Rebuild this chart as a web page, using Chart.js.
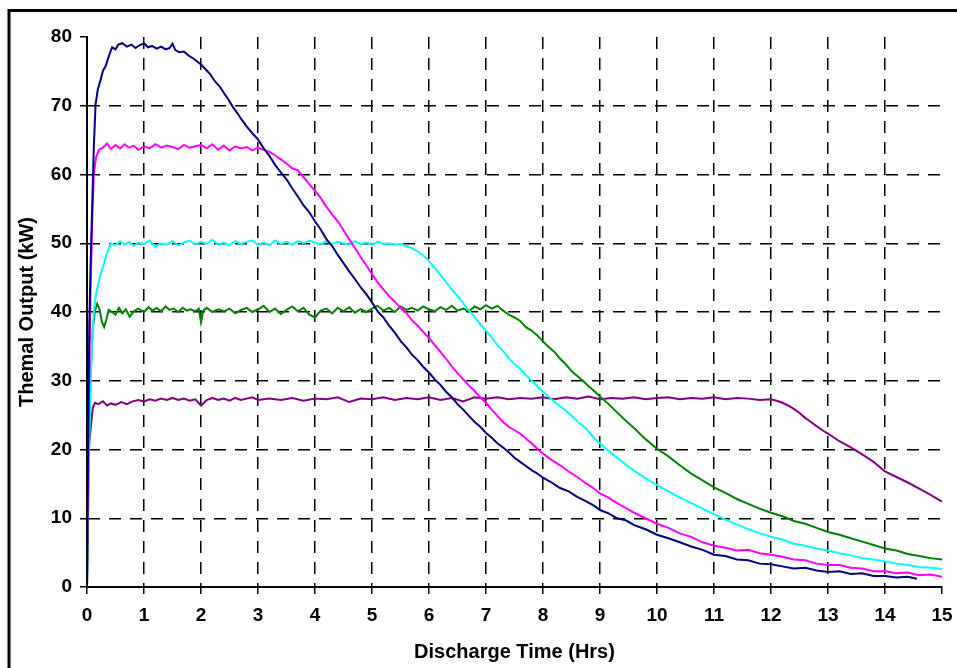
<!DOCTYPE html>
<html>
<head>
<meta charset="utf-8">
<script src="https://cdn.jsdelivr.net/npm/chart.js@4/dist/chart.umd.min.js"></script>
<style>
  html, body { margin: 0; padding: 0; background: #fff; }
  #wrap { width: 957px; height: 668px; }
</style>
</head>
<body>
<div id="wrap"><canvas id="chart" width="957" height="668"></canvas></div>
<script>
// discharge curves, [hours, kW]
const out80 = [[0,0],[0.02,22],[0.04,38],[0.06,46],[0.09,55],[0.12,64],[0.15,70.2],[0.19,72.4],[0.24,73.8],[0.28,75.1],[0.33,75.8],[0.37,76.9],[0.4,77.6],[0.44,78.5],[0.5,78.2],[0.55,78.9],[0.62,79.1],[0.7,78.6],[0.78,78.9],[0.85,78.4],[0.92,78.8],[1.0,79.1],[1.07,78.5],[1.14,78.7],[1.22,78.3],[1.3,78.6],[1.38,78.2],[1.45,78.4],[1.5,79.0],[1.55,78.1],[1.62,77.8],[1.7,77.9],[1.78,77.3],[1.86,76.9],[1.94,76.4],[2.0,76.0],[2.08,75.3],[2.16,74.6],[2.25,73.5],[2.33,72.8],[2.4,71.9],[2.48,70.9],[2.56,69.8],[2.64,68.9],[2.72,67.9],[2.8,67.0],[2.9,66.0],[3.0,65.1],[3.1,63.8],[3.2,62.7],[3.3,61.4],[3.4,60.3],[3.5,59.3],[3.6,58.0],[3.7,56.8],[3.8,55.5],[3.9,54.5],[4.0,53.2],[4.1,52.0],[4.2,50.6],[4.3,49.6],[4.4,48.3],[4.5,47.1],[4.6,45.9],[4.7,44.8],[4.8,43.6],[4.9,42.6],[5.0,41.4],[5.1,40.1],[5.2,39.2],[5.3,38.0],[5.4,37.0],[5.5,35.8],[5.6,34.9],[5.7,33.8],[5.8,33.0],[5.9,32.0],[6.0,31.2],[6.1,30.2],[6.2,29.4],[6.3,28.4],[6.4,27.6],[6.5,26.6],[6.6,25.8],[6.7,24.9],[6.8,24.0],[6.9,23.3],[7.0,22.4],[7.1,21.7],[7.2,20.9],[7.3,20.3],[7.4,19.6],[7.5,18.8],[7.6,18.2],[7.7,17.6],[7.8,17.0],[7.9,16.5],[8.0,15.9],[8.15,15.2],[8.3,14.4],[8.45,13.9],[8.6,13.1],[8.75,12.5],[8.9,11.8],[9.0,11.2],[9.15,10.7],[9.3,10.0],[9.45,9.7],[9.6,9.0],[9.8,8.4],[10.0,7.6],[10.2,7.1],[10.4,6.5],[10.6,5.9],[10.8,5.4],[11.0,4.7],[11.2,4.5],[11.4,4.0],[11.6,3.9],[11.8,3.4],[12.0,3.3],[12.2,3.0],[12.4,2.7],[12.6,2.8],[12.8,2.4],[13.0,2.2],[13.2,2.3],[13.4,1.9],[13.6,2.0],[13.8,1.6],[14.0,1.6],[14.2,1.4],[14.4,1.5],[14.56,1.2]];

const out64 = [[0,0],[0.03,25],[0.06,42],[0.09,53],[0.12,60.2],[0.16,62.5],[0.21,63.6],[0.28,63.9],[0.35,64.5],[0.42,63.7],[0.5,64.3],[0.58,63.8],[0.66,64.4],[0.74,63.9],[0.82,64.2],[0.9,63.6],[1.0,64.1],[1.1,63.8],[1.2,64.4],[1.3,63.9],[1.4,64.2],[1.5,64.0],[1.6,63.7],[1.7,64.3],[1.8,63.9],[1.9,64.1],[2.0,64.3],[2.1,63.8],[2.2,64.4],[2.3,63.6],[2.4,64.2],[2.5,63.5],[2.6,64.1],[2.7,63.8],[2.8,64.0],[2.9,63.5],[3.0,63.9],[3.1,63.6],[3.2,63.3],[3.3,62.8],[3.4,62.2],[3.5,61.6],[3.6,60.9],[3.7,60.6],[3.8,59.6],[3.9,58.6],[4.0,57.6],[4.1,56.6],[4.2,55.3],[4.3,54.2],[4.4,53.2],[4.5,51.9],[4.6,50.6],[4.7,49.3],[4.8,48.0],[4.9,46.8],[5.0,45.5],[5.1,44.3],[5.2,43.3],[5.3,42.3],[5.4,41.5],[5.5,40.6],[5.6,39.9],[5.7,38.8],[5.8,38.0],[5.9,37.1],[6.0,36.2],[6.1,35.2],[6.2,34.2],[6.3,33.2],[6.4,32.1],[6.5,31.1],[6.6,30.2],[6.7,29.3],[6.8,28.5],[6.9,27.6],[7.0,26.8],[7.1,25.8],[7.2,24.9],[7.3,24.0],[7.4,23.3],[7.5,22.8],[7.6,22.3],[7.7,21.6],[7.8,20.9],[7.9,20.1],[8.0,19.4],[8.15,18.5],[8.3,17.7],[8.45,16.8],[8.6,16.0],[8.75,15.1],[8.9,14.3],[9.0,13.6],[9.15,13.0],[9.3,12.2],[9.45,11.5],[9.6,10.8],[9.8,10.0],[10.0,9.2],[10.2,8.6],[10.4,7.8],[10.6,7.3],[10.8,6.5],[11.0,6.0],[11.2,5.7],[11.4,5.3],[11.6,5.4],[11.8,4.9],[12.0,4.7],[12.2,4.4],[12.4,4.0],[12.6,3.9],[12.8,3.4],[13.0,3.2],[13.2,3.2],[13.4,2.8],[13.6,2.7],[13.8,2.3],[14.0,2.3],[14.2,2.0],[14.4,2.1],[14.6,1.7],[14.8,1.8],[15.0,1.5]];

const out50 = [[0,0],[0.04,22],[0.08,34],[0.12,40],[0.15,42.2],[0.2,44.3],[0.25,45.8],[0.3,47.1],[0.36,48.8],[0.42,50.0],[0.5,49.7],[0.58,50.3],[0.66,49.8],[0.74,50.2],[0.82,49.6],[0.9,50.1],[1.0,49.9],[1.1,50.4],[1.2,49.5],[1.3,50.0],[1.4,49.8],[1.5,50.3],[1.6,49.7],[1.7,50.1],[1.8,50.4],[1.9,49.8],[2.0,50.2],[2.1,49.9],[2.2,50.5],[2.3,49.8],[2.4,50.1],[2.5,49.7],[2.6,50.3],[2.7,49.9],[2.8,50.2],[2.9,50.4],[3.0,49.8],[3.1,50.1],[3.2,49.7],[3.3,50.4],[3.4,49.9],[3.5,50.2],[3.6,49.8],[3.7,50.3],[3.8,50.0],[3.9,50.4],[4.0,50.1],[4.1,49.8],[4.2,50.3],[4.3,49.9],[4.4,50.2],[4.5,50.0],[4.6,49.8],[4.7,50.3],[4.8,49.9],[4.9,50.1],[5.0,49.8],[5.1,50.2],[5.2,49.9],[5.3,50.0],[5.4,49.8],[5.5,49.9],[5.6,49.6],[5.7,49.3],[5.8,48.8],[5.9,48.2],[6.0,47.4],[6.1,46.4],[6.2,45.4],[6.3,44.3],[6.4,43.3],[6.5,42.3],[6.6,41.3],[6.7,40.2],[6.8,39.3],[6.9,38.2],[7.0,37.3],[7.1,36.3],[7.2,35.2],[7.3,34.3],[7.4,33.3],[7.5,32.4],[7.6,31.7],[7.7,30.8],[7.8,30.0],[7.9,29.2],[8.0,28.4],[8.15,27.3],[8.3,26.3],[8.45,25.3],[8.6,24.1],[8.75,23.1],[8.9,21.6],[9.0,20.9],[9.15,19.8],[9.3,18.8],[9.45,17.8],[9.6,16.9],[9.8,15.8],[10.0,14.8],[10.2,13.9],[10.4,13.0],[10.6,12.2],[10.8,11.4],[11.0,10.6],[11.2,9.8],[11.4,9.1],[11.6,8.4],[11.8,7.8],[12.0,7.3],[12.2,6.9],[12.4,6.3],[12.6,6.0],[12.8,5.6],[13.0,5.3],[13.2,4.9],[13.4,4.6],[13.6,4.2],[13.8,4.0],[14.0,3.7],[14.2,3.4],[14.4,3.2],[14.6,2.9],[14.8,2.8],[15.0,2.6]];

const out40 = [[0,0],[0.03,18],[0.06,30],[0.1,37.5],[0.14,40.2],[0.18,41.2],[0.22,40.4],[0.26,38.6],[0.3,37.8],[0.34,38.9],[0.38,40.3],[0.44,40.0],[0.5,39.6],[0.56,40.6],[0.62,39.8],[0.68,40.4],[0.75,39.3],[0.82,40.1],[0.9,40.5],[1.0,40.0],[1.08,40.7],[1.15,40.2],[1.22,40.6],[1.3,40.1],[1.38,40.8],[1.45,40.3],[1.52,40.5],[1.6,40.0],[1.68,40.6],[1.75,40.2],[1.82,40.4],[1.9,40.1],[1.96,40.5],[2.0,38.5],[2.04,40.2],[2.1,40.6],[2.2,40.0],[2.3,40.4],[2.4,40.1],[2.5,40.5],[2.6,39.8],[2.7,40.3],[2.8,40.6],[2.9,40.0],[3.0,40.4],[3.1,40.9],[3.2,40.0],[3.3,40.5],[3.4,39.7],[3.5,40.3],[3.6,40.8],[3.7,40.1],[3.8,40.6],[3.9,39.6],[4.0,39.2],[4.1,40.2],[4.2,40.5],[4.3,39.8],[4.4,40.6],[4.5,40.1],[4.6,40.7],[4.7,39.9],[4.8,40.4],[4.9,40.0],[5.0,40.5],[5.1,40.9],[5.2,40.2],[5.3,40.6],[5.4,40.0],[5.5,40.8],[5.6,40.3],[5.7,40.6],[5.8,40.2],[5.9,40.8],[6.0,40.4],[6.1,40.1],[6.2,40.7],[6.3,40.3],[6.4,40.9],[6.5,40.2],[6.6,40.5],[6.7,40.1],[6.8,40.8],[6.9,40.4],[7.0,41.0],[7.1,40.5],[7.2,40.9],[7.3,40.2],[7.4,39.6],[7.5,39.2],[7.6,38.7],[7.7,37.8],[7.8,37.3],[7.9,36.6],[8.0,35.7],[8.1,34.9],[8.2,34.2],[8.3,33.2],[8.4,32.4],[8.5,31.4],[8.6,30.7],[8.7,30.0],[8.8,29.2],[8.9,28.5],[9.0,27.7],[9.15,26.6],[9.3,25.4],[9.45,24.2],[9.6,23.1],[9.8,21.5],[10.0,20.1],[10.2,19.0],[10.4,17.7],[10.6,16.5],[10.8,15.5],[11.0,14.5],[11.2,13.7],[11.4,12.8],[11.6,12.1],[11.8,11.4],[12.0,10.8],[12.2,10.3],[12.4,9.6],[12.6,9.2],[12.8,8.6],[13.0,8.0],[13.2,7.6],[13.4,7.1],[13.6,6.6],[13.8,6.1],[14.0,5.6],[14.2,5.3],[14.4,4.8],[14.6,4.5],[14.8,4.2],[15.0,4.0]];

const out27 = [[0,0],[0.02,17],[0.04,21],[0.07,23.5],[0.1,26.0],[0.14,26.8],[0.2,26.6],[0.28,27.0],[0.35,26.4],[0.42,26.7],[0.5,26.5],[0.6,26.9],[0.7,26.6],[0.8,27.0],[0.9,27.2],[1.0,27.0],[1.1,27.3],[1.2,27.1],[1.3,27.4],[1.4,27.2],[1.5,27.5],[1.6,27.2],[1.7,27.4],[1.8,27.1],[1.9,27.3],[2.0,26.4],[2.1,27.2],[2.2,27.5],[2.3,27.2],[2.4,27.4],[2.5,27.1],[2.6,27.5],[2.7,27.2],[2.8,27.4],[2.9,27.6],[3.0,27.2],[3.2,27.4],[3.4,27.2],[3.6,27.5],[3.8,27.1],[4.0,27.4],[4.2,27.3],[4.4,27.6],[4.6,26.9],[4.8,27.4],[5.0,27.3],[5.2,27.6],[5.4,27.2],[5.6,27.5],[5.8,27.3],[6.0,27.6],[6.2,27.2],[6.4,27.5],[6.6,27.0],[6.8,27.6],[7.0,27.4],[7.2,27.6],[7.4,27.3],[7.6,27.5],[7.8,27.4],[8.0,27.6],[8.2,27.3],[8.4,27.6],[8.6,27.4],[8.8,27.7],[9.0,27.3],[9.2,27.5],[9.4,27.4],[9.6,27.6],[9.8,27.3],[10.0,27.5],[10.2,27.6],[10.4,27.3],[10.6,27.5],[10.8,27.4],[11.0,27.6],[11.2,27.3],[11.4,27.5],[11.6,27.4],[11.8,27.2],[12.0,27.3],[12.1,27.1],[12.2,26.8],[12.3,26.4],[12.4,25.9],[12.5,25.3],[12.6,24.6],[12.7,24.0],[12.8,23.4],[12.9,22.8],[13.0,22.3],[13.2,21.2],[13.4,20.3],[13.6,19.3],[13.8,18.2],[14.0,16.8],[14.2,16.0],[14.4,15.2],[14.6,14.3],[14.8,13.4],[15.0,12.4]];

const seriesData = [out80, out64, out50, out40, out27];
const seriesColors = ['#000080', '#ff00ff', '#00ffff', '#008000', '#800080'];

const X_MIN = 0, X_MAX = 15, X_STEP = 1;
const Y_MIN = 0, Y_MAX = 80, Y_STEP = 10;

const fontFam = "'Liberation Sans', Arial, sans-serif";

// outer frame like the exported picture
const framePlugin = {
    id: 'frame',
    beforeDraw(chart) {
        const ctx = chart.ctx;
        ctx.save();
        ctx.fillStyle = '#fff';
        ctx.fillRect(0, 0, chart.width, chart.height);
        ctx.strokeStyle = '#000';
        ctx.lineWidth = 3;
        ctx.strokeRect(9, 10.5, 1200, 1200);
        ctx.restore();
    }
};

// hide the dashed line on the first and last tick, axis line covers those
function gridColor(c) {
    const n = c.scale.ticks.length;
    if (c.index === 0 || c.index === n - 1) return 'rgba(0,0,0,0)';
    return '#000';
}

new Chart(document.getElementById('chart').getContext('2d'), {
    type: 'line',
    data: {
        datasets: seriesData.map((d, i) => ({
            data: d,
            borderColor: seriesColors[i],
            borderWidth: 2,
            pointRadius: 0,
            tension: 0,
            fill: false
        }))
    },
    options: {
        responsive: false,
        animation: false,
        layout: {
            padding: { left: 0, top: 37, right: 15, bottom: 0 }
        },
        plugins: {
            legend: { display: false },
            tooltip: { enabled: false }
        },
        scales: {
            x: {
                type: 'linear',
                min: X_MIN,
                max: X_MAX,
                afterFit: (scale) => {
                    scale.height = 81;
                    scale.paddingRight = 0;
                    scale.paddingLeft = 0;
                },
                ticks: {
                    stepSize: X_STEP,
                    color: '#000',
                    padding: 10,
                    maxRotation: 0,
                    font: { family: fontFam, size: 19, weight: 'bold' }
                },
                grid: {
                    color: gridColor,
                    lineWidth: 1.5,
                    tickColor: '#000',
                    tickLength: 7,
                    tickWidth: 1.5
                },
                border: { display: true, color: '#000', width: 2, dash: [12, 9] },
                title: {
                    display: true,
                    text: 'Discharge Time (Hrs)',
                    color: '#000',
                    padding: { top: 0, bottom: 4 },
                    font: { family: fontFam, size: 20, weight: 'bold' }
                }
            },
            y: {
                min: Y_MIN,
                max: Y_MAX,
                afterFit: (scale) => { scale.width = 87; },
                ticks: {
                    stepSize: Y_STEP,
                    color: '#000',
                    padding: 8,
                    font: { family: fontFam, size: 19, weight: 'bold' }
                },
                grid: {
                    color: gridColor,
                    lineWidth: 1.5,
                    tickColor: '#000',
                    tickLength: 7,
                    tickWidth: 1.5
                },
                border: { display: true, color: '#000', width: 2, dash: [12, 9] },
                title: {
                    display: true,
                    text: 'Themal Output (kW)',
                    color: '#000',
                    padding: { top: 15, bottom: 0 },
                    font: { family: fontFam, size: 20, weight: 'bold' }
                }
            }
        }
    },
    plugins: [framePlugin]
});
</script>
</body>
</html>
